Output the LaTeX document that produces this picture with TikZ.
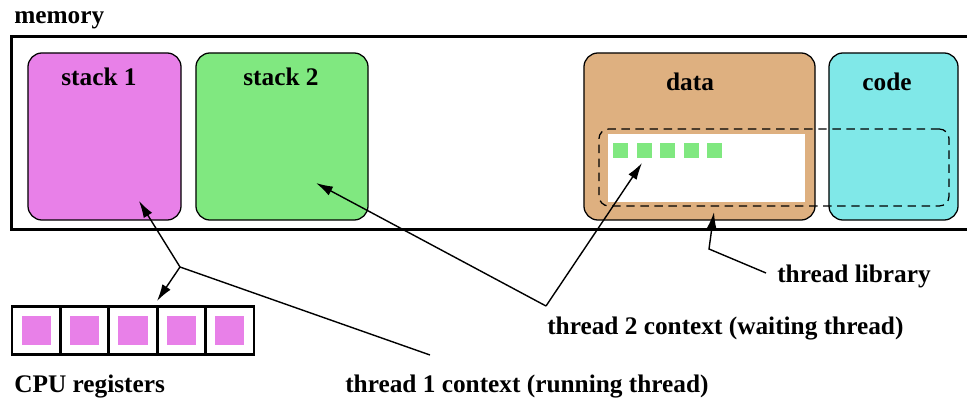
\documentclass[tikz,border=0pt]{standalone}
\usepackage{fontspec}
\setmainfont{Liberation Serif}
\usetikzlibrary{arrows.meta}

\definecolor{stackOne}{HTML}{E880E8}
\definecolor{stackTwo}{HTML}{80E880}
\definecolor{dataTan}{HTML}{DEB080}
\definecolor{codeCyan}{HTML}{80E8E8}

\begin{document}
\begin{tikzpicture}[
    x=0.025cm, y=-0.025cm,
    seg/.style={rectangle, rounded corners=10pt, draw=black, line width=0.9pt, minimum height=4.175cm},
    lbl/.style={font=\fontsize{18}{20}\selectfont\bfseries, inner sep=0pt},
    reg/.style={rectangle, draw=black, line width=2pt, minimum size=1.21cm, fill=white},
    slot/.style={rectangle, inner sep=0pt, minimum size=0.725cm, fill=stackOne},
    tls/.style={rectangle, inner sep=0pt, minimum size=0.375cm, fill=stackTwo},
    arrow/.style={line width=1pt, -{Latex[length=12pt,width=7pt]}},
    wire/.style={line width=1pt}
]
\useasboundingbox (0,0) rectangle (967,400);

% Memory
\node[lbl, anchor=base west] (memlbl) at (14,24) {memory};
\node[rectangle, draw=black, line width=2.1pt, minimum width=24.45cm, minimum height=4.8cm] (mem) at (501,133) {};

% Segments
\node[seg, fill=stackOne, minimum width=3.825cm] (stack1) at (104.5,136.5) {};
\node[seg, fill=stackTwo, minimum width=4.3cm] (stack2) at (282,136.5) {};
\node[seg, fill=dataTan, minimum width=5.775cm] (data) at (699.5,136.5) {};
\node[seg, fill=codeCyan, minimum width=3.225cm] (code) at (893.5,136.5) {};
\node[lbl, anchor=base] (stack1lbl) at (99,86) {stack 1};
\node[lbl, anchor=base] (stack2lbl) at (281,86) {stack 2};
\node[lbl, anchor=base] (datalbl) at (690,91) {data};
\node[lbl, anchor=base] (codelbl) at (887,91) {code};

% Thread library area
\node[rectangle, fill=white, minimum width=4.925cm, minimum height=1.7cm] (tcb) at (706.5,168) {};
\node[tls] (tls1) at (620.5,150.5) {};
\node[tls] (tls2) at (644,150.5) {};
\node[tls] (tls3) at (667.5,150.5) {};
\node[tls] (tls4) at (691,150.5) {};
\node[tls] (tls5) at (714.5,150.5) {};
\node[rectangle, rounded corners=7pt, draw=black, line width=0.9pt, dash pattern=on 6pt off 4pt, minimum width=8.75cm, minimum height=1.925cm] (lib) at (774,167.5) {};

% CPU registers
\node[reg] (reg1) at (36.2,330.5) {};
\node[reg] (reg2) at (84.6,330.5) {};
\node[reg] (reg3) at (133,330.5) {};
\node[reg] (reg4) at (181.4,330.5) {};
\node[reg] (reg5) at (229.8,330.5) {};
\node[slot] at (reg1) {};
\node[slot] at (reg2) {};
\node[slot] at (reg3) {};
\node[slot] at (reg4) {};
\node[slot] at (reg5) {};
\node[lbl, anchor=base west] (cpulbl) at (14,392) {CPU registers};

% Labels
\node[lbl, anchor=base west] (ctx1) at (345,392) {thread 1 context (running thread)};
\node[lbl, anchor=base west] (ctx2) at (547,334) {thread 2 context (waiting thread)};
\node[lbl, anchor=base west] (libname) at (777,282) {thread library};

% Pointer coordinates
\coordinate (ctx1end) at (430,355);
\coordinate (j1) at (180,267);
\coordinate (s1tip) at (139,201);
\coordinate (regtip) at (157,301);
\coordinate (j2) at (546,306);
\coordinate (s2tip) at (316,183);
\coordinate (tlstip) at (642,163);
\coordinate (libend) at (766,273);
\coordinate (libbend) at (709,249);
\coordinate (libtip) at (714,212);

% Pointers
\draw[wire] (ctx1end) -- (j1);
\draw[arrow] (j1) -- (s1tip);
\draw[arrow] (j1) -- (regtip);
\draw[arrow] (j2) -- (s2tip);
\draw[arrow] (j2) -- (tlstip);
\draw[arrow] (libend) -- (libbend) -- (libtip);

\end{tikzpicture}
\end{document}
